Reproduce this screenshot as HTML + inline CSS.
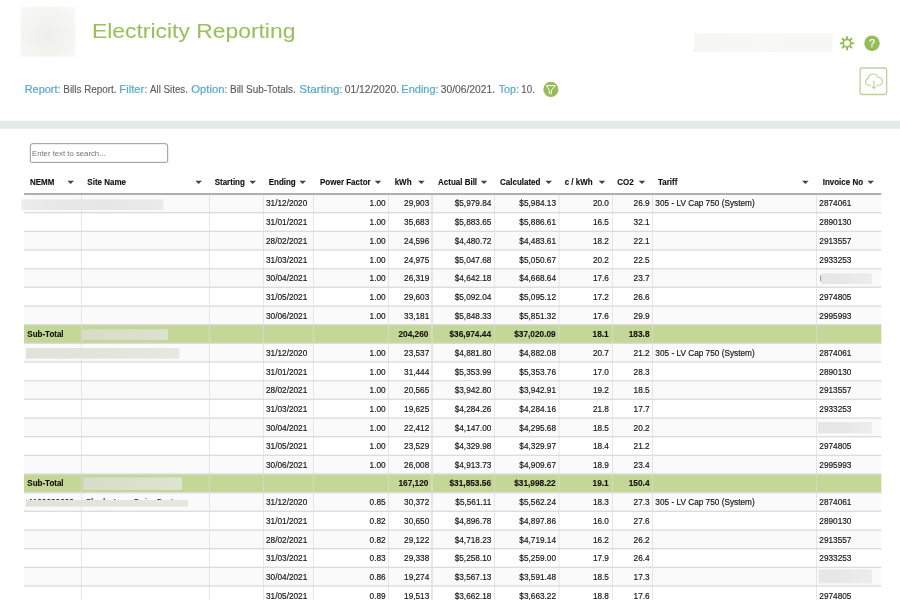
<!DOCTYPE html>
<html><head><meta charset="utf-8"><style>
html,body{margin:0;padding:0;width:900px;height:600px;overflow:hidden;background:#fff}
#root{position:absolute;left:0;top:0;width:1350px;height:900px;transform:scale(0.6666667);transform-origin:0 0;overflow:hidden;background:#fff}
.t{position:absolute;white-space:nowrap;font-family:"Liberation Sans",sans-serif;line-height:1}
.r{position:absolute}
</style></head><body><div id="root">
<div class="r" style="left:30.75px;top:10.05px;width:81.75px;height:75.30px;background:radial-gradient(ellipse at 48% 58%, #eef0ea 0%, #f2f3ee 40%, #f7f8f4 80%, #fafbf8 100%);filter:blur(0.8px)"></div>
<div class="t" style="left:137.70px;top:30.94px;font-size:31.50px;font-weight:normal;color:#9bbf5d;-webkit-text-stroke:0.12px #9bbf5d;transform:scaleX(1.0892);transform-origin:0 0;">Electricity Reporting</div>
<div class="r" style="left:1042.20px;top:49.50px;width:207.30px;height:28.05px;background:linear-gradient(90deg,#f6f6f3,#f8f8f5 50%,#f7f7f4);filter:blur(0.6px)"></div>
<div class="r" style="left:1040.85px;top:74.10px;width:1.50px;height:2.25px;background:#b5cf8a"></div>
<svg class="r" style="left:0;top:0" width="1350" height="900" viewBox="0 0 900 600">
<g transform="translate(847,43.17)" fill="none" stroke="#96bb58">
 <circle r="3.8" stroke-width="1.65"/>
 <g stroke-width="1.95" stroke-linecap="round"><line x1="4.20" y1="0.00" x2="6.25" y2="0.00"/><line x1="2.97" y1="2.97" x2="4.42" y2="4.42"/><line x1="0.00" y1="4.20" x2="0.00" y2="6.25"/><line x1="-2.97" y1="2.97" x2="-4.42" y2="4.42"/><line x1="-4.20" y1="0.00" x2="-6.25" y2="0.00"/><line x1="-2.97" y1="-2.97" x2="-4.42" y2="-4.42"/><line x1="-0.00" y1="-4.20" x2="-0.00" y2="-6.25"/><line x1="2.97" y1="-2.97" x2="4.42" y2="-4.42"/></g>
</g>
<circle cx="872" cy="43.2" r="7.7" fill="#96bb58"/>
<text x="872" y="46.6" text-anchor="middle" font-family="Liberation Sans" font-size="10.2" fill="#fff" stroke="#fff" stroke-width="0.25">?</text>
<circle cx="550.85" cy="89.4" r="7.55" fill="#96bb58"/>
<path d="M546.3,85.6 H555.4 L551.5,90.1 V93.5 Q550.4,94.5 549.3,93.5 V90.1 Z" fill="none" stroke="#fff" stroke-width="0.95" stroke-linejoin="round"/>
<rect x="860.1" y="68.0" width="26.5" height="26.5" rx="2" fill="none" stroke="#bcd398" stroke-width="1.3"/>
<path d="M871.2,85.3 H868.6 A3.4,3.4 0 0 1 868.2,78.6 A5,5 0 0 1 878.0,77.6 A3.9,3.9 0 0 1 879.2,85.3 H876.6" fill="none" stroke="#bcd398" stroke-width="1.05"/>
<path d="M873.9,80.6 V88.4 M871.8,86.3 L873.9,88.4 L876.0,86.3" fill="none" stroke="#bcd398" stroke-width="1.05"/>
</svg>
<div class="t" style="left:36.75px;top:125.61px;font-size:16.05px;font-weight:normal;color:#58a9cd;-webkit-text-stroke:0.3px #58a9cd;transform:scaleX(1.0231);transform-origin:0 0;">Report:</div>
<div class="t" style="left:94.80px;top:126.65px;font-size:15.00px;font-weight:normal;color:#5c5c5c;-webkit-text-stroke:0.2px #5c5c5c;transform:scaleX(0.9869);transform-origin:0 0;">Bills Report.</div>
<div class="t" style="left:179.25px;top:125.61px;font-size:16.05px;font-weight:normal;color:#58a9cd;-webkit-text-stroke:0.3px #58a9cd;transform:scaleX(1.0542);transform-origin:0 0;">Filter:</div>
<div class="t" style="left:224.70px;top:126.65px;font-size:15.00px;font-weight:normal;color:#5c5c5c;-webkit-text-stroke:0.2px #5c5c5c;transform:scaleX(0.9743);transform-origin:0 0;">All Sites.</div>
<div class="t" style="left:287.25px;top:125.61px;font-size:16.05px;font-weight:normal;color:#58a9cd;-webkit-text-stroke:0.3px #58a9cd;transform:scaleX(1.0493);transform-origin:0 0;">Option:</div>
<div class="t" style="left:345.15px;top:126.65px;font-size:15.00px;font-weight:normal;color:#5c5c5c;-webkit-text-stroke:0.2px #5c5c5c;transform:scaleX(0.9934);transform-origin:0 0;">Bill Sub-Totals.</div>
<div class="t" style="left:448.80px;top:125.61px;font-size:16.05px;font-weight:normal;color:#58a9cd;-webkit-text-stroke:0.3px #58a9cd;transform:scaleX(1.0866);transform-origin:0 0;">Starting:</div>
<div class="t" style="left:516.90px;top:126.65px;font-size:15.00px;font-weight:normal;color:#5c5c5c;-webkit-text-stroke:0.2px #5c5c5c;transform:scaleX(1.0317);transform-origin:0 0;">01/12/2020.</div>
<div class="t" style="left:601.65px;top:125.61px;font-size:16.05px;font-weight:normal;color:#58a9cd;-webkit-text-stroke:0.3px #58a9cd;transform:scaleX(1.0278);transform-origin:0 0;">Ending:</div>
<div class="t" style="left:660.75px;top:126.65px;font-size:15.00px;font-weight:normal;color:#5c5c5c;-webkit-text-stroke:0.2px #5c5c5c;transform:scaleX(1.0317);transform-origin:0 0;">30/06/2021.</div>
<div class="t" style="left:747.75px;top:125.61px;font-size:16.05px;font-weight:normal;color:#58a9cd;-webkit-text-stroke:0.3px #58a9cd;transform:scaleX(0.9988);transform-origin:0 0;">Top:</div>
<div class="t" style="left:781.80px;top:126.65px;font-size:15.00px;font-weight:normal;color:#5c5c5c;-webkit-text-stroke:0.2px #5c5c5c;transform:scaleX(0.9711);transform-origin:0 0;">10.</div>
<div class="r" style="left:0.00px;top:181.05px;width:1350.00px;height:12.00px;background:#e6e9e9"></div>
<div class="r" style="left:44.55px;top:214.95px;width:207.45px;height:29.10px;border:1.7px solid #636363;border-radius:4px 4px 2px 2px;box-sizing:border-box;background:#fff"></div>
<div class="t" style="left:47.85px;top:223.57px;font-size:12.15px;font-weight:normal;color:#727272;transform:scaleX(0.9568);transform-origin:0 0;">Enter text to search...</div>
<div class="t" style="left:44.55px;top:267.03px;font-size:12.90px;font-weight:bold;color:#111;-webkit-text-stroke:0.2px #111;transform:scaleX(0.9302);transform-origin:0 0;">NEMM</div>
<div class="r" style="left:101.25px;top:270.90px;width:0;height:0;border-left:5.40px solid transparent;border-right:5.40px solid transparent;border-top:5.55px solid #444"></div>
<div class="t" style="left:130.95px;top:267.03px;font-size:12.90px;font-weight:bold;color:#111;-webkit-text-stroke:0.2px #111;transform:scaleX(0.9302);transform-origin:0 0;">Site Name</div>
<div class="r" style="left:292.65px;top:270.90px;width:0;height:0;border-left:5.40px solid transparent;border-right:5.40px solid transparent;border-top:5.55px solid #444"></div>
<div class="t" style="left:322.20px;top:267.03px;font-size:12.90px;font-weight:bold;color:#111;-webkit-text-stroke:0.2px #111;transform:scaleX(0.9302);transform-origin:0 0;">Starting</div>
<div class="r" style="left:374.25px;top:270.90px;width:0;height:0;border-left:5.40px solid transparent;border-right:5.40px solid transparent;border-top:5.55px solid #444"></div>
<div class="t" style="left:402.90px;top:267.03px;font-size:12.90px;font-weight:bold;color:#111;-webkit-text-stroke:0.2px #111;transform:scaleX(0.9302);transform-origin:0 0;">Ending</div>
<div class="r" style="left:449.25px;top:270.90px;width:0;height:0;border-left:5.40px solid transparent;border-right:5.40px solid transparent;border-top:5.55px solid #444"></div>
<div class="t" style="left:479.55px;top:267.03px;font-size:12.90px;font-weight:bold;color:#111;-webkit-text-stroke:0.2px #111;transform:scaleX(0.9302);transform-origin:0 0;">Power Factor</div>
<div class="r" style="left:561.90px;top:270.90px;width:0;height:0;border-left:5.40px solid transparent;border-right:5.40px solid transparent;border-top:5.55px solid #444"></div>
<div class="t" style="left:591.90px;top:267.03px;font-size:12.90px;font-weight:bold;color:#111;-webkit-text-stroke:0.2px #111;transform:scaleX(0.9302);transform-origin:0 0;">kWh</div>
<div class="r" style="left:626.55px;top:270.90px;width:0;height:0;border-left:5.40px solid transparent;border-right:5.40px solid transparent;border-top:5.55px solid #444"></div>
<div class="t" style="left:656.55px;top:267.03px;font-size:12.90px;font-weight:bold;color:#111;-webkit-text-stroke:0.2px #111;transform:scaleX(0.9302);transform-origin:0 0;">Actual Bill</div>
<div class="r" style="left:720.90px;top:270.90px;width:0;height:0;border-left:5.40px solid transparent;border-right:5.40px solid transparent;border-top:5.55px solid #444"></div>
<div class="t" style="left:749.55px;top:267.03px;font-size:12.90px;font-weight:bold;color:#111;-webkit-text-stroke:0.2px #111;transform:scaleX(0.9302);transform-origin:0 0;">Calculated</div>
<div class="r" style="left:817.65px;top:270.90px;width:0;height:0;border-left:5.40px solid transparent;border-right:5.40px solid transparent;border-top:5.55px solid #444"></div>
<div class="t" style="left:847.20px;top:267.03px;font-size:12.90px;font-weight:bold;color:#111;-webkit-text-stroke:0.2px #111;transform:scaleX(0.9302);transform-origin:0 0;">c / kWh</div>
<div class="r" style="left:897.60px;top:270.90px;width:0;height:0;border-left:5.40px solid transparent;border-right:5.40px solid transparent;border-top:5.55px solid #444"></div>
<div class="t" style="left:926.25px;top:267.03px;font-size:12.90px;font-weight:bold;color:#111;-webkit-text-stroke:0.2px #111;transform:scaleX(0.9302);transform-origin:0 0;">CO2</div>
<div class="r" style="left:957.60px;top:270.90px;width:0;height:0;border-left:5.40px solid transparent;border-right:5.40px solid transparent;border-top:5.55px solid #444"></div>
<div class="t" style="left:986.85px;top:267.03px;font-size:12.90px;font-weight:bold;color:#111;-webkit-text-stroke:0.2px #111;transform:scaleX(0.9302);transform-origin:0 0;">Tariff</div>
<div class="r" style="left:1203.30px;top:270.90px;width:0;height:0;border-left:5.40px solid transparent;border-right:5.40px solid transparent;border-top:5.55px solid #444"></div>
<div class="t" style="left:1233.90px;top:267.03px;font-size:12.90px;font-weight:bold;color:#111;-webkit-text-stroke:0.2px #111;transform:scaleX(0.9302);transform-origin:0 0;">Invoice No</div>
<div class="r" style="left:1300.95px;top:270.90px;width:0;height:0;border-left:5.40px solid transparent;border-right:5.40px solid transparent;border-top:5.55px solid #444"></div>
<div class="r" style="left:36.00px;top:291.00px;width:1285.50px;height:28.00px;background:#fafafa"></div>
<div class="r" style="left:36.00px;top:319.00px;width:1285.50px;height:28.00px;background:#fff"></div>
<div class="r" style="left:36.00px;top:347.00px;width:1285.50px;height:28.00px;background:#fafafa"></div>
<div class="r" style="left:36.00px;top:375.00px;width:1285.50px;height:28.00px;background:#fff"></div>
<div class="r" style="left:36.00px;top:403.00px;width:1285.50px;height:28.00px;background:#fafafa"></div>
<div class="r" style="left:36.00px;top:431.00px;width:1285.50px;height:28.00px;background:#fff"></div>
<div class="r" style="left:36.00px;top:459.00px;width:1285.50px;height:28.00px;background:#fafafa"></div>
<div class="r" style="left:36.00px;top:487.00px;width:1285.50px;height:28.00px;background:#c4d796"></div>
<div class="r" style="left:36.00px;top:515.00px;width:1285.50px;height:28.00px;background:#fafafa"></div>
<div class="r" style="left:36.00px;top:543.00px;width:1285.50px;height:28.00px;background:#fff"></div>
<div class="r" style="left:36.00px;top:571.00px;width:1285.50px;height:28.00px;background:#fafafa"></div>
<div class="r" style="left:36.00px;top:599.00px;width:1285.50px;height:28.00px;background:#fff"></div>
<div class="r" style="left:36.00px;top:627.00px;width:1285.50px;height:28.00px;background:#fafafa"></div>
<div class="r" style="left:36.00px;top:655.00px;width:1285.50px;height:28.00px;background:#fff"></div>
<div class="r" style="left:36.00px;top:683.00px;width:1285.50px;height:28.00px;background:#fafafa"></div>
<div class="r" style="left:36.00px;top:711.00px;width:1285.50px;height:28.00px;background:#c4d796"></div>
<div class="r" style="left:36.00px;top:739.00px;width:1285.50px;height:28.00px;background:#fafafa"></div>
<div class="r" style="left:36.00px;top:767.00px;width:1285.50px;height:28.00px;background:#fff"></div>
<div class="r" style="left:36.00px;top:795.00px;width:1285.50px;height:28.00px;background:#fafafa"></div>
<div class="r" style="left:36.00px;top:823.00px;width:1285.50px;height:28.00px;background:#fff"></div>
<div class="r" style="left:36.00px;top:851.00px;width:1285.50px;height:28.00px;background:#fafafa"></div>
<div class="r" style="left:36.00px;top:879.00px;width:1285.50px;height:28.00px;background:#fff"></div>
<div class="r" style="left:36.00px;top:318.44px;width:1285.50px;height:1.12px;background:#dcdcdc"></div>
<div class="r" style="left:36.00px;top:346.44px;width:1285.50px;height:1.12px;background:#dcdcdc"></div>
<div class="r" style="left:36.00px;top:374.44px;width:1285.50px;height:1.12px;background:#dcdcdc"></div>
<div class="r" style="left:36.00px;top:402.44px;width:1285.50px;height:1.12px;background:#dcdcdc"></div>
<div class="r" style="left:36.00px;top:430.44px;width:1285.50px;height:1.12px;background:#dcdcdc"></div>
<div class="r" style="left:36.00px;top:458.44px;width:1285.50px;height:1.12px;background:#dcdcdc"></div>
<div class="r" style="left:36.00px;top:486.44px;width:1285.50px;height:1.12px;background:#dcdcdc"></div>
<div class="r" style="left:36.00px;top:514.44px;width:1285.50px;height:1.12px;background:#dcdcdc"></div>
<div class="r" style="left:36.00px;top:542.44px;width:1285.50px;height:1.12px;background:#dcdcdc"></div>
<div class="r" style="left:36.00px;top:570.44px;width:1285.50px;height:1.12px;background:#dcdcdc"></div>
<div class="r" style="left:36.00px;top:598.44px;width:1285.50px;height:1.12px;background:#dcdcdc"></div>
<div class="r" style="left:36.00px;top:626.44px;width:1285.50px;height:1.12px;background:#dcdcdc"></div>
<div class="r" style="left:36.00px;top:654.44px;width:1285.50px;height:1.12px;background:#dcdcdc"></div>
<div class="r" style="left:36.00px;top:682.44px;width:1285.50px;height:1.12px;background:#dcdcdc"></div>
<div class="r" style="left:36.00px;top:710.44px;width:1285.50px;height:1.12px;background:#dcdcdc"></div>
<div class="r" style="left:36.00px;top:738.44px;width:1285.50px;height:1.12px;background:#dcdcdc"></div>
<div class="r" style="left:36.00px;top:766.44px;width:1285.50px;height:1.12px;background:#dcdcdc"></div>
<div class="r" style="left:36.00px;top:794.44px;width:1285.50px;height:1.12px;background:#dcdcdc"></div>
<div class="r" style="left:36.00px;top:822.44px;width:1285.50px;height:1.12px;background:#dcdcdc"></div>
<div class="r" style="left:36.00px;top:850.44px;width:1285.50px;height:1.12px;background:#dcdcdc"></div>
<div class="r" style="left:36.00px;top:878.44px;width:1285.50px;height:1.12px;background:#dcdcdc"></div>
<div class="r" style="left:36.00px;top:906.44px;width:1285.50px;height:1.12px;background:#dcdcdc"></div>
<div class="r" style="left:36.00px;top:289.80px;width:1285.50px;height:2.10px;background:#8a8a8a"></div>
<div class="r" style="left:121.69px;top:291.90px;width:1.12px;height:608.10px;background:#dcdcdc"></div>
<div class="r" style="left:313.54px;top:291.90px;width:1.12px;height:608.10px;background:#dcdcdc"></div>
<div class="r" style="left:394.54px;top:291.90px;width:1.12px;height:608.10px;background:#dcdcdc"></div>
<div class="r" style="left:469.69px;top:291.90px;width:1.12px;height:608.10px;background:#dcdcdc"></div>
<div class="r" style="left:582.34px;top:291.90px;width:1.12px;height:608.10px;background:#dcdcdc"></div>
<div class="r" style="left:647.44px;top:291.90px;width:1.12px;height:608.10px;background:#dcdcdc"></div>
<div class="r" style="left:741.04px;top:291.90px;width:1.12px;height:608.10px;background:#dcdcdc"></div>
<div class="r" style="left:837.94px;top:291.90px;width:1.12px;height:608.10px;background:#dcdcdc"></div>
<div class="r" style="left:917.59px;top:291.90px;width:1.12px;height:608.10px;background:#dcdcdc"></div>
<div class="r" style="left:978.34px;top:291.90px;width:1.12px;height:608.10px;background:#dcdcdc"></div>
<div class="r" style="left:1224.34px;top:291.90px;width:1.12px;height:608.10px;background:#dcdcdc"></div>
<div class="t" style="left:398.55px;top:297.95px;font-size:13.05px;font-weight:normal;color:#141414;-webkit-text-stroke:0.25px #141414;transform:scaleX(0.9483);transform-origin:0 0;">31/12/2020</div>
<div class="t" style="left:983.02px;top:297.95px;font-size:13.05px;font-weight:normal;color:#141414;-webkit-text-stroke:0.25px #141414;transform:scaleX(0.9483);transform-origin:0 0;">305 - LV Cap 750 (System)</div>
<div class="t" style="left:1229.25px;top:297.95px;font-size:13.05px;font-weight:normal;color:#141414;-webkit-text-stroke:0.25px #141414;transform:scaleX(0.9483);transform-origin:0 0;">2874061</div>
<div class="t" style="right:771.60px;top:297.95px;font-size:13.05px;font-weight:normal;color:#141414;-webkit-text-stroke:0.25px #141414;transform:scaleX(0.9483);transform-origin:100% 0;">1.00</div>
<div class="t" style="right:706.50px;top:297.95px;font-size:13.05px;font-weight:normal;color:#141414;-webkit-text-stroke:0.25px #141414;transform:scaleX(0.9483);transform-origin:100% 0;">29,903</div>
<div class="t" style="right:612.90px;top:297.95px;font-size:13.05px;font-weight:normal;color:#141414;-webkit-text-stroke:0.25px #141414;transform:scaleX(0.9483);transform-origin:100% 0;">$5,979.84</div>
<div class="t" style="right:516.00px;top:297.95px;font-size:13.05px;font-weight:normal;color:#141414;-webkit-text-stroke:0.25px #141414;transform:scaleX(0.9483);transform-origin:100% 0;">$5,984.13</div>
<div class="t" style="right:436.35px;top:297.95px;font-size:13.05px;font-weight:normal;color:#141414;-webkit-text-stroke:0.25px #141414;transform:scaleX(0.9483);transform-origin:100% 0;">20.0</div>
<div class="t" style="right:375.60px;top:297.95px;font-size:13.05px;font-weight:normal;color:#141414;-webkit-text-stroke:0.25px #141414;transform:scaleX(0.9483);transform-origin:100% 0;">26.9</div>
<div class="t" style="left:398.55px;top:326.85px;font-size:13.05px;font-weight:normal;color:#141414;-webkit-text-stroke:0.25px #141414;transform:scaleX(0.9483);transform-origin:0 0;">31/01/2021</div>
<div class="t" style="left:1229.25px;top:326.85px;font-size:13.05px;font-weight:normal;color:#141414;-webkit-text-stroke:0.25px #141414;transform:scaleX(0.9483);transform-origin:0 0;">2890130</div>
<div class="t" style="right:771.60px;top:326.85px;font-size:13.05px;font-weight:normal;color:#141414;-webkit-text-stroke:0.25px #141414;transform:scaleX(0.9483);transform-origin:100% 0;">1.00</div>
<div class="t" style="right:706.50px;top:326.85px;font-size:13.05px;font-weight:normal;color:#141414;-webkit-text-stroke:0.25px #141414;transform:scaleX(0.9483);transform-origin:100% 0;">35,683</div>
<div class="t" style="right:612.90px;top:326.85px;font-size:13.05px;font-weight:normal;color:#141414;-webkit-text-stroke:0.25px #141414;transform:scaleX(0.9483);transform-origin:100% 0;">$5,883.65</div>
<div class="t" style="right:516.00px;top:326.85px;font-size:13.05px;font-weight:normal;color:#141414;-webkit-text-stroke:0.25px #141414;transform:scaleX(0.9483);transform-origin:100% 0;">$5,886.61</div>
<div class="t" style="right:436.35px;top:326.85px;font-size:13.05px;font-weight:normal;color:#141414;-webkit-text-stroke:0.25px #141414;transform:scaleX(0.9483);transform-origin:100% 0;">16.5</div>
<div class="t" style="right:375.60px;top:326.85px;font-size:13.05px;font-weight:normal;color:#141414;-webkit-text-stroke:0.25px #141414;transform:scaleX(0.9483);transform-origin:100% 0;">32.1</div>
<div class="t" style="left:398.55px;top:354.85px;font-size:13.05px;font-weight:normal;color:#141414;-webkit-text-stroke:0.25px #141414;transform:scaleX(0.9483);transform-origin:0 0;">28/02/2021</div>
<div class="t" style="left:1229.25px;top:354.85px;font-size:13.05px;font-weight:normal;color:#141414;-webkit-text-stroke:0.25px #141414;transform:scaleX(0.9483);transform-origin:0 0;">2913557</div>
<div class="t" style="right:771.60px;top:354.85px;font-size:13.05px;font-weight:normal;color:#141414;-webkit-text-stroke:0.25px #141414;transform:scaleX(0.9483);transform-origin:100% 0;">1.00</div>
<div class="t" style="right:706.50px;top:354.85px;font-size:13.05px;font-weight:normal;color:#141414;-webkit-text-stroke:0.25px #141414;transform:scaleX(0.9483);transform-origin:100% 0;">24,596</div>
<div class="t" style="right:612.90px;top:354.85px;font-size:13.05px;font-weight:normal;color:#141414;-webkit-text-stroke:0.25px #141414;transform:scaleX(0.9483);transform-origin:100% 0;">$4,480.72</div>
<div class="t" style="right:516.00px;top:354.85px;font-size:13.05px;font-weight:normal;color:#141414;-webkit-text-stroke:0.25px #141414;transform:scaleX(0.9483);transform-origin:100% 0;">$4,483.61</div>
<div class="t" style="right:436.35px;top:354.85px;font-size:13.05px;font-weight:normal;color:#141414;-webkit-text-stroke:0.25px #141414;transform:scaleX(0.9483);transform-origin:100% 0;">18.2</div>
<div class="t" style="right:375.60px;top:354.85px;font-size:13.05px;font-weight:normal;color:#141414;-webkit-text-stroke:0.25px #141414;transform:scaleX(0.9483);transform-origin:100% 0;">22.1</div>
<div class="t" style="left:398.55px;top:382.85px;font-size:13.05px;font-weight:normal;color:#141414;-webkit-text-stroke:0.25px #141414;transform:scaleX(0.9483);transform-origin:0 0;">31/03/2021</div>
<div class="t" style="left:1229.25px;top:382.85px;font-size:13.05px;font-weight:normal;color:#141414;-webkit-text-stroke:0.25px #141414;transform:scaleX(0.9483);transform-origin:0 0;">2933253</div>
<div class="t" style="right:771.60px;top:382.85px;font-size:13.05px;font-weight:normal;color:#141414;-webkit-text-stroke:0.25px #141414;transform:scaleX(0.9483);transform-origin:100% 0;">1.00</div>
<div class="t" style="right:706.50px;top:382.85px;font-size:13.05px;font-weight:normal;color:#141414;-webkit-text-stroke:0.25px #141414;transform:scaleX(0.9483);transform-origin:100% 0;">24,975</div>
<div class="t" style="right:612.90px;top:382.85px;font-size:13.05px;font-weight:normal;color:#141414;-webkit-text-stroke:0.25px #141414;transform:scaleX(0.9483);transform-origin:100% 0;">$5,047.68</div>
<div class="t" style="right:516.00px;top:382.85px;font-size:13.05px;font-weight:normal;color:#141414;-webkit-text-stroke:0.25px #141414;transform:scaleX(0.9483);transform-origin:100% 0;">$5,050.67</div>
<div class="t" style="right:436.35px;top:382.85px;font-size:13.05px;font-weight:normal;color:#141414;-webkit-text-stroke:0.25px #141414;transform:scaleX(0.9483);transform-origin:100% 0;">20.2</div>
<div class="t" style="right:375.60px;top:382.85px;font-size:13.05px;font-weight:normal;color:#141414;-webkit-text-stroke:0.25px #141414;transform:scaleX(0.9483);transform-origin:100% 0;">22.5</div>
<div class="t" style="left:398.55px;top:410.85px;font-size:13.05px;font-weight:normal;color:#141414;-webkit-text-stroke:0.25px #141414;transform:scaleX(0.9483);transform-origin:0 0;">30/04/2021</div>
<div class="t" style="right:771.60px;top:410.85px;font-size:13.05px;font-weight:normal;color:#141414;-webkit-text-stroke:0.25px #141414;transform:scaleX(0.9483);transform-origin:100% 0;">1.00</div>
<div class="t" style="right:706.50px;top:410.85px;font-size:13.05px;font-weight:normal;color:#141414;-webkit-text-stroke:0.25px #141414;transform:scaleX(0.9483);transform-origin:100% 0;">26,319</div>
<div class="t" style="right:612.90px;top:410.85px;font-size:13.05px;font-weight:normal;color:#141414;-webkit-text-stroke:0.25px #141414;transform:scaleX(0.9483);transform-origin:100% 0;">$4,642.18</div>
<div class="t" style="right:516.00px;top:410.85px;font-size:13.05px;font-weight:normal;color:#141414;-webkit-text-stroke:0.25px #141414;transform:scaleX(0.9483);transform-origin:100% 0;">$4,668.64</div>
<div class="t" style="right:436.35px;top:410.85px;font-size:13.05px;font-weight:normal;color:#141414;-webkit-text-stroke:0.25px #141414;transform:scaleX(0.9483);transform-origin:100% 0;">17.6</div>
<div class="t" style="right:375.60px;top:410.85px;font-size:13.05px;font-weight:normal;color:#141414;-webkit-text-stroke:0.25px #141414;transform:scaleX(0.9483);transform-origin:100% 0;">23.7</div>
<div class="t" style="left:398.55px;top:438.85px;font-size:13.05px;font-weight:normal;color:#141414;-webkit-text-stroke:0.25px #141414;transform:scaleX(0.9483);transform-origin:0 0;">31/05/2021</div>
<div class="t" style="left:1229.25px;top:438.85px;font-size:13.05px;font-weight:normal;color:#141414;-webkit-text-stroke:0.25px #141414;transform:scaleX(0.9483);transform-origin:0 0;">2974805</div>
<div class="t" style="right:771.60px;top:438.85px;font-size:13.05px;font-weight:normal;color:#141414;-webkit-text-stroke:0.25px #141414;transform:scaleX(0.9483);transform-origin:100% 0;">1.00</div>
<div class="t" style="right:706.50px;top:438.85px;font-size:13.05px;font-weight:normal;color:#141414;-webkit-text-stroke:0.25px #141414;transform:scaleX(0.9483);transform-origin:100% 0;">29,603</div>
<div class="t" style="right:612.90px;top:438.85px;font-size:13.05px;font-weight:normal;color:#141414;-webkit-text-stroke:0.25px #141414;transform:scaleX(0.9483);transform-origin:100% 0;">$5,092.04</div>
<div class="t" style="right:516.00px;top:438.85px;font-size:13.05px;font-weight:normal;color:#141414;-webkit-text-stroke:0.25px #141414;transform:scaleX(0.9483);transform-origin:100% 0;">$5,095.12</div>
<div class="t" style="right:436.35px;top:438.85px;font-size:13.05px;font-weight:normal;color:#141414;-webkit-text-stroke:0.25px #141414;transform:scaleX(0.9483);transform-origin:100% 0;">17.2</div>
<div class="t" style="right:375.60px;top:438.85px;font-size:13.05px;font-weight:normal;color:#141414;-webkit-text-stroke:0.25px #141414;transform:scaleX(0.9483);transform-origin:100% 0;">26.6</div>
<div class="t" style="left:398.55px;top:466.85px;font-size:13.05px;font-weight:normal;color:#141414;-webkit-text-stroke:0.25px #141414;transform:scaleX(0.9483);transform-origin:0 0;">30/06/2021</div>
<div class="t" style="left:1229.25px;top:466.85px;font-size:13.05px;font-weight:normal;color:#141414;-webkit-text-stroke:0.25px #141414;transform:scaleX(0.9483);transform-origin:0 0;">2995993</div>
<div class="t" style="right:771.60px;top:466.85px;font-size:13.05px;font-weight:normal;color:#141414;-webkit-text-stroke:0.25px #141414;transform:scaleX(0.9483);transform-origin:100% 0;">1.00</div>
<div class="t" style="right:706.50px;top:466.85px;font-size:13.05px;font-weight:normal;color:#141414;-webkit-text-stroke:0.25px #141414;transform:scaleX(0.9483);transform-origin:100% 0;">33,181</div>
<div class="t" style="right:612.90px;top:466.85px;font-size:13.05px;font-weight:normal;color:#141414;-webkit-text-stroke:0.25px #141414;transform:scaleX(0.9483);transform-origin:100% 0;">$5,848.33</div>
<div class="t" style="right:516.00px;top:466.85px;font-size:13.05px;font-weight:normal;color:#141414;-webkit-text-stroke:0.25px #141414;transform:scaleX(0.9483);transform-origin:100% 0;">$5,851.32</div>
<div class="t" style="right:436.35px;top:466.85px;font-size:13.05px;font-weight:normal;color:#141414;-webkit-text-stroke:0.25px #141414;transform:scaleX(0.9483);transform-origin:100% 0;">17.6</div>
<div class="t" style="right:375.60px;top:466.85px;font-size:13.05px;font-weight:normal;color:#141414;-webkit-text-stroke:0.25px #141414;transform:scaleX(0.9483);transform-origin:100% 0;">29.9</div>
<div class="t" style="left:40.80px;top:494.98px;font-size:12.90px;font-weight:bold;color:#141414;-webkit-text-stroke:0.2px #111;transform:scaleX(0.9302);transform-origin:0 0;">Sub-Total</div>
<div class="t" style="right:707.10px;top:494.98px;font-size:12.90px;font-weight:bold;color:#141414;-webkit-text-stroke:0.2px #111;transform:scaleX(0.9651);transform-origin:100% 0;">204,260</div>
<div class="t" style="right:613.50px;top:494.98px;font-size:12.90px;font-weight:bold;color:#141414;-webkit-text-stroke:0.2px #111;transform:scaleX(0.9651);transform-origin:100% 0;">$36,974.44</div>
<div class="t" style="right:516.60px;top:494.98px;font-size:12.90px;font-weight:bold;color:#141414;-webkit-text-stroke:0.2px #111;transform:scaleX(0.9651);transform-origin:100% 0;">$37,020.09</div>
<div class="t" style="right:436.95px;top:494.98px;font-size:12.90px;font-weight:bold;color:#141414;-webkit-text-stroke:0.2px #111;transform:scaleX(0.9651);transform-origin:100% 0;">18.1</div>
<div class="t" style="right:376.20px;top:494.98px;font-size:12.90px;font-weight:bold;color:#141414;-webkit-text-stroke:0.2px #111;transform:scaleX(0.9651);transform-origin:100% 0;">183.8</div>
<div class="t" style="left:398.55px;top:522.85px;font-size:13.05px;font-weight:normal;color:#141414;-webkit-text-stroke:0.25px #141414;transform:scaleX(0.9483);transform-origin:0 0;">31/12/2020</div>
<div class="t" style="left:983.02px;top:522.85px;font-size:13.05px;font-weight:normal;color:#141414;-webkit-text-stroke:0.25px #141414;transform:scaleX(0.9483);transform-origin:0 0;">305 - LV Cap 750 (System)</div>
<div class="t" style="left:1229.25px;top:522.85px;font-size:13.05px;font-weight:normal;color:#141414;-webkit-text-stroke:0.25px #141414;transform:scaleX(0.9483);transform-origin:0 0;">2874061</div>
<div class="t" style="right:771.60px;top:522.85px;font-size:13.05px;font-weight:normal;color:#141414;-webkit-text-stroke:0.25px #141414;transform:scaleX(0.9483);transform-origin:100% 0;">1.00</div>
<div class="t" style="right:706.50px;top:522.85px;font-size:13.05px;font-weight:normal;color:#141414;-webkit-text-stroke:0.25px #141414;transform:scaleX(0.9483);transform-origin:100% 0;">23,537</div>
<div class="t" style="right:612.90px;top:522.85px;font-size:13.05px;font-weight:normal;color:#141414;-webkit-text-stroke:0.25px #141414;transform:scaleX(0.9483);transform-origin:100% 0;">$4,881.80</div>
<div class="t" style="right:516.00px;top:522.85px;font-size:13.05px;font-weight:normal;color:#141414;-webkit-text-stroke:0.25px #141414;transform:scaleX(0.9483);transform-origin:100% 0;">$4,882.08</div>
<div class="t" style="right:436.35px;top:522.85px;font-size:13.05px;font-weight:normal;color:#141414;-webkit-text-stroke:0.25px #141414;transform:scaleX(0.9483);transform-origin:100% 0;">20.7</div>
<div class="t" style="right:375.60px;top:522.85px;font-size:13.05px;font-weight:normal;color:#141414;-webkit-text-stroke:0.25px #141414;transform:scaleX(0.9483);transform-origin:100% 0;">21.2</div>
<div class="t" style="left:398.55px;top:550.85px;font-size:13.05px;font-weight:normal;color:#141414;-webkit-text-stroke:0.25px #141414;transform:scaleX(0.9483);transform-origin:0 0;">31/01/2021</div>
<div class="t" style="left:1229.25px;top:550.85px;font-size:13.05px;font-weight:normal;color:#141414;-webkit-text-stroke:0.25px #141414;transform:scaleX(0.9483);transform-origin:0 0;">2890130</div>
<div class="t" style="right:771.60px;top:550.85px;font-size:13.05px;font-weight:normal;color:#141414;-webkit-text-stroke:0.25px #141414;transform:scaleX(0.9483);transform-origin:100% 0;">1.00</div>
<div class="t" style="right:706.50px;top:550.85px;font-size:13.05px;font-weight:normal;color:#141414;-webkit-text-stroke:0.25px #141414;transform:scaleX(0.9483);transform-origin:100% 0;">31,444</div>
<div class="t" style="right:612.90px;top:550.85px;font-size:13.05px;font-weight:normal;color:#141414;-webkit-text-stroke:0.25px #141414;transform:scaleX(0.9483);transform-origin:100% 0;">$5,353.99</div>
<div class="t" style="right:516.00px;top:550.85px;font-size:13.05px;font-weight:normal;color:#141414;-webkit-text-stroke:0.25px #141414;transform:scaleX(0.9483);transform-origin:100% 0;">$5,353.76</div>
<div class="t" style="right:436.35px;top:550.85px;font-size:13.05px;font-weight:normal;color:#141414;-webkit-text-stroke:0.25px #141414;transform:scaleX(0.9483);transform-origin:100% 0;">17.0</div>
<div class="t" style="right:375.60px;top:550.85px;font-size:13.05px;font-weight:normal;color:#141414;-webkit-text-stroke:0.25px #141414;transform:scaleX(0.9483);transform-origin:100% 0;">28.3</div>
<div class="t" style="left:398.55px;top:578.85px;font-size:13.05px;font-weight:normal;color:#141414;-webkit-text-stroke:0.25px #141414;transform:scaleX(0.9483);transform-origin:0 0;">28/02/2021</div>
<div class="t" style="left:1229.25px;top:578.85px;font-size:13.05px;font-weight:normal;color:#141414;-webkit-text-stroke:0.25px #141414;transform:scaleX(0.9483);transform-origin:0 0;">2913557</div>
<div class="t" style="right:771.60px;top:578.85px;font-size:13.05px;font-weight:normal;color:#141414;-webkit-text-stroke:0.25px #141414;transform:scaleX(0.9483);transform-origin:100% 0;">1.00</div>
<div class="t" style="right:706.50px;top:578.85px;font-size:13.05px;font-weight:normal;color:#141414;-webkit-text-stroke:0.25px #141414;transform:scaleX(0.9483);transform-origin:100% 0;">20,565</div>
<div class="t" style="right:612.90px;top:578.85px;font-size:13.05px;font-weight:normal;color:#141414;-webkit-text-stroke:0.25px #141414;transform:scaleX(0.9483);transform-origin:100% 0;">$3,942.80</div>
<div class="t" style="right:516.00px;top:578.85px;font-size:13.05px;font-weight:normal;color:#141414;-webkit-text-stroke:0.25px #141414;transform:scaleX(0.9483);transform-origin:100% 0;">$3,942.91</div>
<div class="t" style="right:436.35px;top:578.85px;font-size:13.05px;font-weight:normal;color:#141414;-webkit-text-stroke:0.25px #141414;transform:scaleX(0.9483);transform-origin:100% 0;">19.2</div>
<div class="t" style="right:375.60px;top:578.85px;font-size:13.05px;font-weight:normal;color:#141414;-webkit-text-stroke:0.25px #141414;transform:scaleX(0.9483);transform-origin:100% 0;">18.5</div>
<div class="t" style="left:398.55px;top:606.85px;font-size:13.05px;font-weight:normal;color:#141414;-webkit-text-stroke:0.25px #141414;transform:scaleX(0.9483);transform-origin:0 0;">31/03/2021</div>
<div class="t" style="left:1229.25px;top:606.85px;font-size:13.05px;font-weight:normal;color:#141414;-webkit-text-stroke:0.25px #141414;transform:scaleX(0.9483);transform-origin:0 0;">2933253</div>
<div class="t" style="right:771.60px;top:606.85px;font-size:13.05px;font-weight:normal;color:#141414;-webkit-text-stroke:0.25px #141414;transform:scaleX(0.9483);transform-origin:100% 0;">1.00</div>
<div class="t" style="right:706.50px;top:606.85px;font-size:13.05px;font-weight:normal;color:#141414;-webkit-text-stroke:0.25px #141414;transform:scaleX(0.9483);transform-origin:100% 0;">19,625</div>
<div class="t" style="right:612.90px;top:606.85px;font-size:13.05px;font-weight:normal;color:#141414;-webkit-text-stroke:0.25px #141414;transform:scaleX(0.9483);transform-origin:100% 0;">$4,284.26</div>
<div class="t" style="right:516.00px;top:606.85px;font-size:13.05px;font-weight:normal;color:#141414;-webkit-text-stroke:0.25px #141414;transform:scaleX(0.9483);transform-origin:100% 0;">$4,284.16</div>
<div class="t" style="right:436.35px;top:606.85px;font-size:13.05px;font-weight:normal;color:#141414;-webkit-text-stroke:0.25px #141414;transform:scaleX(0.9483);transform-origin:100% 0;">21.8</div>
<div class="t" style="right:375.60px;top:606.85px;font-size:13.05px;font-weight:normal;color:#141414;-webkit-text-stroke:0.25px #141414;transform:scaleX(0.9483);transform-origin:100% 0;">17.7</div>
<div class="t" style="left:398.55px;top:634.85px;font-size:13.05px;font-weight:normal;color:#141414;-webkit-text-stroke:0.25px #141414;transform:scaleX(0.9483);transform-origin:0 0;">30/04/2021</div>
<div class="t" style="right:771.60px;top:634.85px;font-size:13.05px;font-weight:normal;color:#141414;-webkit-text-stroke:0.25px #141414;transform:scaleX(0.9483);transform-origin:100% 0;">1.00</div>
<div class="t" style="right:706.50px;top:634.85px;font-size:13.05px;font-weight:normal;color:#141414;-webkit-text-stroke:0.25px #141414;transform:scaleX(0.9483);transform-origin:100% 0;">22,412</div>
<div class="t" style="right:612.90px;top:634.85px;font-size:13.05px;font-weight:normal;color:#141414;-webkit-text-stroke:0.25px #141414;transform:scaleX(0.9483);transform-origin:100% 0;">$4,147.00</div>
<div class="t" style="right:516.00px;top:634.85px;font-size:13.05px;font-weight:normal;color:#141414;-webkit-text-stroke:0.25px #141414;transform:scaleX(0.9483);transform-origin:100% 0;">$4,295.68</div>
<div class="t" style="right:436.35px;top:634.85px;font-size:13.05px;font-weight:normal;color:#141414;-webkit-text-stroke:0.25px #141414;transform:scaleX(0.9483);transform-origin:100% 0;">18.5</div>
<div class="t" style="right:375.60px;top:634.85px;font-size:13.05px;font-weight:normal;color:#141414;-webkit-text-stroke:0.25px #141414;transform:scaleX(0.9483);transform-origin:100% 0;">20.2</div>
<div class="t" style="left:398.55px;top:662.85px;font-size:13.05px;font-weight:normal;color:#141414;-webkit-text-stroke:0.25px #141414;transform:scaleX(0.9483);transform-origin:0 0;">31/05/2021</div>
<div class="t" style="left:1229.25px;top:662.85px;font-size:13.05px;font-weight:normal;color:#141414;-webkit-text-stroke:0.25px #141414;transform:scaleX(0.9483);transform-origin:0 0;">2974805</div>
<div class="t" style="right:771.60px;top:662.85px;font-size:13.05px;font-weight:normal;color:#141414;-webkit-text-stroke:0.25px #141414;transform:scaleX(0.9483);transform-origin:100% 0;">1.00</div>
<div class="t" style="right:706.50px;top:662.85px;font-size:13.05px;font-weight:normal;color:#141414;-webkit-text-stroke:0.25px #141414;transform:scaleX(0.9483);transform-origin:100% 0;">23,529</div>
<div class="t" style="right:612.90px;top:662.85px;font-size:13.05px;font-weight:normal;color:#141414;-webkit-text-stroke:0.25px #141414;transform:scaleX(0.9483);transform-origin:100% 0;">$4,329.98</div>
<div class="t" style="right:516.00px;top:662.85px;font-size:13.05px;font-weight:normal;color:#141414;-webkit-text-stroke:0.25px #141414;transform:scaleX(0.9483);transform-origin:100% 0;">$4,329.97</div>
<div class="t" style="right:436.35px;top:662.85px;font-size:13.05px;font-weight:normal;color:#141414;-webkit-text-stroke:0.25px #141414;transform:scaleX(0.9483);transform-origin:100% 0;">18.4</div>
<div class="t" style="right:375.60px;top:662.85px;font-size:13.05px;font-weight:normal;color:#141414;-webkit-text-stroke:0.25px #141414;transform:scaleX(0.9483);transform-origin:100% 0;">21.2</div>
<div class="t" style="left:398.55px;top:690.85px;font-size:13.05px;font-weight:normal;color:#141414;-webkit-text-stroke:0.25px #141414;transform:scaleX(0.9483);transform-origin:0 0;">30/06/2021</div>
<div class="t" style="left:1229.25px;top:690.85px;font-size:13.05px;font-weight:normal;color:#141414;-webkit-text-stroke:0.25px #141414;transform:scaleX(0.9483);transform-origin:0 0;">2995993</div>
<div class="t" style="right:771.60px;top:690.85px;font-size:13.05px;font-weight:normal;color:#141414;-webkit-text-stroke:0.25px #141414;transform:scaleX(0.9483);transform-origin:100% 0;">1.00</div>
<div class="t" style="right:706.50px;top:690.85px;font-size:13.05px;font-weight:normal;color:#141414;-webkit-text-stroke:0.25px #141414;transform:scaleX(0.9483);transform-origin:100% 0;">26,008</div>
<div class="t" style="right:612.90px;top:690.85px;font-size:13.05px;font-weight:normal;color:#141414;-webkit-text-stroke:0.25px #141414;transform:scaleX(0.9483);transform-origin:100% 0;">$4,913.73</div>
<div class="t" style="right:516.00px;top:690.85px;font-size:13.05px;font-weight:normal;color:#141414;-webkit-text-stroke:0.25px #141414;transform:scaleX(0.9483);transform-origin:100% 0;">$4,909.67</div>
<div class="t" style="right:436.35px;top:690.85px;font-size:13.05px;font-weight:normal;color:#141414;-webkit-text-stroke:0.25px #141414;transform:scaleX(0.9483);transform-origin:100% 0;">18.9</div>
<div class="t" style="right:375.60px;top:690.85px;font-size:13.05px;font-weight:normal;color:#141414;-webkit-text-stroke:0.25px #141414;transform:scaleX(0.9483);transform-origin:100% 0;">23.4</div>
<div class="t" style="left:40.80px;top:718.98px;font-size:12.90px;font-weight:bold;color:#141414;-webkit-text-stroke:0.2px #111;transform:scaleX(0.9302);transform-origin:0 0;">Sub-Total</div>
<div class="t" style="right:707.10px;top:718.98px;font-size:12.90px;font-weight:bold;color:#141414;-webkit-text-stroke:0.2px #111;transform:scaleX(0.9651);transform-origin:100% 0;">167,120</div>
<div class="t" style="right:613.50px;top:718.98px;font-size:12.90px;font-weight:bold;color:#141414;-webkit-text-stroke:0.2px #111;transform:scaleX(0.9651);transform-origin:100% 0;">$31,853.56</div>
<div class="t" style="right:516.60px;top:718.98px;font-size:12.90px;font-weight:bold;color:#141414;-webkit-text-stroke:0.2px #111;transform:scaleX(0.9651);transform-origin:100% 0;">$31,998.22</div>
<div class="t" style="right:436.95px;top:718.98px;font-size:12.90px;font-weight:bold;color:#141414;-webkit-text-stroke:0.2px #111;transform:scaleX(0.9651);transform-origin:100% 0;">19.1</div>
<div class="t" style="right:376.20px;top:718.98px;font-size:12.90px;font-weight:bold;color:#141414;-webkit-text-stroke:0.2px #111;transform:scaleX(0.9651);transform-origin:100% 0;">150.4</div>
<div class="t" style="left:398.55px;top:746.85px;font-size:13.05px;font-weight:normal;color:#141414;-webkit-text-stroke:0.25px #141414;transform:scaleX(0.9483);transform-origin:0 0;">31/12/2020</div>
<div class="t" style="left:983.02px;top:746.85px;font-size:13.05px;font-weight:normal;color:#141414;-webkit-text-stroke:0.25px #141414;transform:scaleX(0.9483);transform-origin:0 0;">305 - LV Cap 750 (System)</div>
<div class="t" style="left:1229.25px;top:746.85px;font-size:13.05px;font-weight:normal;color:#141414;-webkit-text-stroke:0.25px #141414;transform:scaleX(0.9483);transform-origin:0 0;">2874061</div>
<div class="t" style="right:771.60px;top:746.85px;font-size:13.05px;font-weight:normal;color:#141414;-webkit-text-stroke:0.25px #141414;transform:scaleX(0.9483);transform-origin:100% 0;">0.85</div>
<div class="t" style="right:706.50px;top:746.85px;font-size:13.05px;font-weight:normal;color:#141414;-webkit-text-stroke:0.25px #141414;transform:scaleX(0.9483);transform-origin:100% 0;">30,372</div>
<div class="t" style="right:612.90px;top:746.85px;font-size:13.05px;font-weight:normal;color:#141414;-webkit-text-stroke:0.25px #141414;transform:scaleX(0.9483);transform-origin:100% 0;">$5,561.11</div>
<div class="t" style="right:516.00px;top:746.85px;font-size:13.05px;font-weight:normal;color:#141414;-webkit-text-stroke:0.25px #141414;transform:scaleX(0.9483);transform-origin:100% 0;">$5,562.24</div>
<div class="t" style="right:436.35px;top:746.85px;font-size:13.05px;font-weight:normal;color:#141414;-webkit-text-stroke:0.25px #141414;transform:scaleX(0.9483);transform-origin:100% 0;">18.3</div>
<div class="t" style="right:375.60px;top:746.85px;font-size:13.05px;font-weight:normal;color:#141414;-webkit-text-stroke:0.25px #141414;transform:scaleX(0.9483);transform-origin:100% 0;">27.3</div>
<div class="t" style="left:398.55px;top:774.85px;font-size:13.05px;font-weight:normal;color:#141414;-webkit-text-stroke:0.25px #141414;transform:scaleX(0.9483);transform-origin:0 0;">31/01/2021</div>
<div class="t" style="left:1229.25px;top:774.85px;font-size:13.05px;font-weight:normal;color:#141414;-webkit-text-stroke:0.25px #141414;transform:scaleX(0.9483);transform-origin:0 0;">2890130</div>
<div class="t" style="right:771.60px;top:774.85px;font-size:13.05px;font-weight:normal;color:#141414;-webkit-text-stroke:0.25px #141414;transform:scaleX(0.9483);transform-origin:100% 0;">0.82</div>
<div class="t" style="right:706.50px;top:774.85px;font-size:13.05px;font-weight:normal;color:#141414;-webkit-text-stroke:0.25px #141414;transform:scaleX(0.9483);transform-origin:100% 0;">30,650</div>
<div class="t" style="right:612.90px;top:774.85px;font-size:13.05px;font-weight:normal;color:#141414;-webkit-text-stroke:0.25px #141414;transform:scaleX(0.9483);transform-origin:100% 0;">$4,896.78</div>
<div class="t" style="right:516.00px;top:774.85px;font-size:13.05px;font-weight:normal;color:#141414;-webkit-text-stroke:0.25px #141414;transform:scaleX(0.9483);transform-origin:100% 0;">$4,897.86</div>
<div class="t" style="right:436.35px;top:774.85px;font-size:13.05px;font-weight:normal;color:#141414;-webkit-text-stroke:0.25px #141414;transform:scaleX(0.9483);transform-origin:100% 0;">16.0</div>
<div class="t" style="right:375.60px;top:774.85px;font-size:13.05px;font-weight:normal;color:#141414;-webkit-text-stroke:0.25px #141414;transform:scaleX(0.9483);transform-origin:100% 0;">27.6</div>
<div class="t" style="left:398.55px;top:802.85px;font-size:13.05px;font-weight:normal;color:#141414;-webkit-text-stroke:0.25px #141414;transform:scaleX(0.9483);transform-origin:0 0;">28/02/2021</div>
<div class="t" style="left:1229.25px;top:802.85px;font-size:13.05px;font-weight:normal;color:#141414;-webkit-text-stroke:0.25px #141414;transform:scaleX(0.9483);transform-origin:0 0;">2913557</div>
<div class="t" style="right:771.60px;top:802.85px;font-size:13.05px;font-weight:normal;color:#141414;-webkit-text-stroke:0.25px #141414;transform:scaleX(0.9483);transform-origin:100% 0;">0.82</div>
<div class="t" style="right:706.50px;top:802.85px;font-size:13.05px;font-weight:normal;color:#141414;-webkit-text-stroke:0.25px #141414;transform:scaleX(0.9483);transform-origin:100% 0;">29,122</div>
<div class="t" style="right:612.90px;top:802.85px;font-size:13.05px;font-weight:normal;color:#141414;-webkit-text-stroke:0.25px #141414;transform:scaleX(0.9483);transform-origin:100% 0;">$4,718.23</div>
<div class="t" style="right:516.00px;top:802.85px;font-size:13.05px;font-weight:normal;color:#141414;-webkit-text-stroke:0.25px #141414;transform:scaleX(0.9483);transform-origin:100% 0;">$4,719.14</div>
<div class="t" style="right:436.35px;top:802.85px;font-size:13.05px;font-weight:normal;color:#141414;-webkit-text-stroke:0.25px #141414;transform:scaleX(0.9483);transform-origin:100% 0;">16.2</div>
<div class="t" style="right:375.60px;top:802.85px;font-size:13.05px;font-weight:normal;color:#141414;-webkit-text-stroke:0.25px #141414;transform:scaleX(0.9483);transform-origin:100% 0;">26.2</div>
<div class="t" style="left:398.55px;top:830.85px;font-size:13.05px;font-weight:normal;color:#141414;-webkit-text-stroke:0.25px #141414;transform:scaleX(0.9483);transform-origin:0 0;">31/03/2021</div>
<div class="t" style="left:1229.25px;top:830.85px;font-size:13.05px;font-weight:normal;color:#141414;-webkit-text-stroke:0.25px #141414;transform:scaleX(0.9483);transform-origin:0 0;">2933253</div>
<div class="t" style="right:771.60px;top:830.85px;font-size:13.05px;font-weight:normal;color:#141414;-webkit-text-stroke:0.25px #141414;transform:scaleX(0.9483);transform-origin:100% 0;">0.83</div>
<div class="t" style="right:706.50px;top:830.85px;font-size:13.05px;font-weight:normal;color:#141414;-webkit-text-stroke:0.25px #141414;transform:scaleX(0.9483);transform-origin:100% 0;">29,338</div>
<div class="t" style="right:612.90px;top:830.85px;font-size:13.05px;font-weight:normal;color:#141414;-webkit-text-stroke:0.25px #141414;transform:scaleX(0.9483);transform-origin:100% 0;">$5,258.10</div>
<div class="t" style="right:516.00px;top:830.85px;font-size:13.05px;font-weight:normal;color:#141414;-webkit-text-stroke:0.25px #141414;transform:scaleX(0.9483);transform-origin:100% 0;">$5,259.00</div>
<div class="t" style="right:436.35px;top:830.85px;font-size:13.05px;font-weight:normal;color:#141414;-webkit-text-stroke:0.25px #141414;transform:scaleX(0.9483);transform-origin:100% 0;">17.9</div>
<div class="t" style="right:375.60px;top:830.85px;font-size:13.05px;font-weight:normal;color:#141414;-webkit-text-stroke:0.25px #141414;transform:scaleX(0.9483);transform-origin:100% 0;">26.4</div>
<div class="t" style="left:398.55px;top:858.85px;font-size:13.05px;font-weight:normal;color:#141414;-webkit-text-stroke:0.25px #141414;transform:scaleX(0.9483);transform-origin:0 0;">30/04/2021</div>
<div class="t" style="right:771.60px;top:858.85px;font-size:13.05px;font-weight:normal;color:#141414;-webkit-text-stroke:0.25px #141414;transform:scaleX(0.9483);transform-origin:100% 0;">0.86</div>
<div class="t" style="right:706.50px;top:858.85px;font-size:13.05px;font-weight:normal;color:#141414;-webkit-text-stroke:0.25px #141414;transform:scaleX(0.9483);transform-origin:100% 0;">19,274</div>
<div class="t" style="right:612.90px;top:858.85px;font-size:13.05px;font-weight:normal;color:#141414;-webkit-text-stroke:0.25px #141414;transform:scaleX(0.9483);transform-origin:100% 0;">$3,567.13</div>
<div class="t" style="right:516.00px;top:858.85px;font-size:13.05px;font-weight:normal;color:#141414;-webkit-text-stroke:0.25px #141414;transform:scaleX(0.9483);transform-origin:100% 0;">$3,591.48</div>
<div class="t" style="right:436.35px;top:858.85px;font-size:13.05px;font-weight:normal;color:#141414;-webkit-text-stroke:0.25px #141414;transform:scaleX(0.9483);transform-origin:100% 0;">18.5</div>
<div class="t" style="right:375.60px;top:858.85px;font-size:13.05px;font-weight:normal;color:#141414;-webkit-text-stroke:0.25px #141414;transform:scaleX(0.9483);transform-origin:100% 0;">17.3</div>
<div class="t" style="left:398.55px;top:886.85px;font-size:13.05px;font-weight:normal;color:#141414;-webkit-text-stroke:0.25px #141414;transform:scaleX(0.9483);transform-origin:0 0;">31/05/2021</div>
<div class="t" style="left:1229.25px;top:886.85px;font-size:13.05px;font-weight:normal;color:#141414;-webkit-text-stroke:0.25px #141414;transform:scaleX(0.9483);transform-origin:0 0;">2974805</div>
<div class="t" style="right:771.60px;top:886.85px;font-size:13.05px;font-weight:normal;color:#141414;-webkit-text-stroke:0.25px #141414;transform:scaleX(0.9483);transform-origin:100% 0;">0.89</div>
<div class="t" style="right:706.50px;top:886.85px;font-size:13.05px;font-weight:normal;color:#141414;-webkit-text-stroke:0.25px #141414;transform:scaleX(0.9483);transform-origin:100% 0;">19,513</div>
<div class="t" style="right:612.90px;top:886.85px;font-size:13.05px;font-weight:normal;color:#141414;-webkit-text-stroke:0.25px #141414;transform:scaleX(0.9483);transform-origin:100% 0;">$3,662.18</div>
<div class="t" style="right:516.00px;top:886.85px;font-size:13.05px;font-weight:normal;color:#141414;-webkit-text-stroke:0.25px #141414;transform:scaleX(0.9483);transform-origin:100% 0;">$3,663.22</div>
<div class="t" style="right:436.35px;top:886.85px;font-size:13.05px;font-weight:normal;color:#141414;-webkit-text-stroke:0.25px #141414;transform:scaleX(0.9483);transform-origin:100% 0;">18.8</div>
<div class="t" style="right:375.60px;top:886.85px;font-size:13.05px;font-weight:normal;color:#141414;-webkit-text-stroke:0.25px #141414;transform:scaleX(0.9483);transform-origin:100% 0;">17.6</div>
<div class="r" style="left:32.10px;top:298.80px;width:213.00px;height:15.75px;background:linear-gradient(90deg,#ececec,#e7e7e7 30%,#e6e6e6 60%,#eaeaea);filter:blur(0.83px)"></div>
<div class="r" style="left:123.45px;top:494.10px;width:129.00px;height:15.60px;background:linear-gradient(90deg,#d6dcc8,#d9dfcb 50%,#dde2d0);filter:blur(0.45px)"></div>
<div class="r" style="left:39.00px;top:522.15px;width:229.50px;height:15.90px;background:linear-gradient(90deg,#e1e3d9,#e3e5da 50%,#e7e9e0);filter:blur(0.38px)"></div>
<div class="r" style="left:124.50px;top:715.65px;width:148.50px;height:19.20px;background:linear-gradient(90deg,#d7ddc9,#dbe0cd 50%,#dfe4d2);filter:blur(0.45px)"></div>
<div class="t" style="left:42.90px;top:746.86px;font-size:13.05px;font-weight:normal;color:#141414;-webkit-text-stroke:0.25px #141414;transform:scaleX(0.9483);transform-origin:0 0;">1100000000</div>
<div class="t" style="left:128.40px;top:746.86px;font-size:13.05px;font-weight:normal;color:#141414;-webkit-text-stroke:0.25px #141414;transform:scaleX(0.9483);transform-origin:0 0;">Charlestown Swim Centre</div>
<div class="r" style="left:39.00px;top:750.00px;width:243.00px;height:9.60px;background:linear-gradient(90deg,#e0e2d8,#e4e6dc 50%,#e6e8df);filter:blur(0.45px)"></div>
<div class="r" style="left:1230.45px;top:412.50px;width:1.20px;height:9.30px;background:#9a9a9a"></div>
<div class="r" style="left:1231.80px;top:410.10px;width:75.90px;height:15.45px;background:linear-gradient(90deg,#e6e6e6,#e8e8e8 50%,#ededed);filter:blur(0.68px)"></div>
<div class="r" style="left:1227.30px;top:633.30px;width:80.40px;height:17.10px;background:linear-gradient(90deg,#e6e6e6,#e8e8e8 50%,#ededed);filter:blur(0.68px)"></div>
<div class="r" style="left:1228.35px;top:854.40px;width:79.95px;height:20.55px;background:linear-gradient(90deg,#e6e6e6,#e8e8e8 50%,#ededed);filter:blur(0.68px)"></div>
</div></body></html>
